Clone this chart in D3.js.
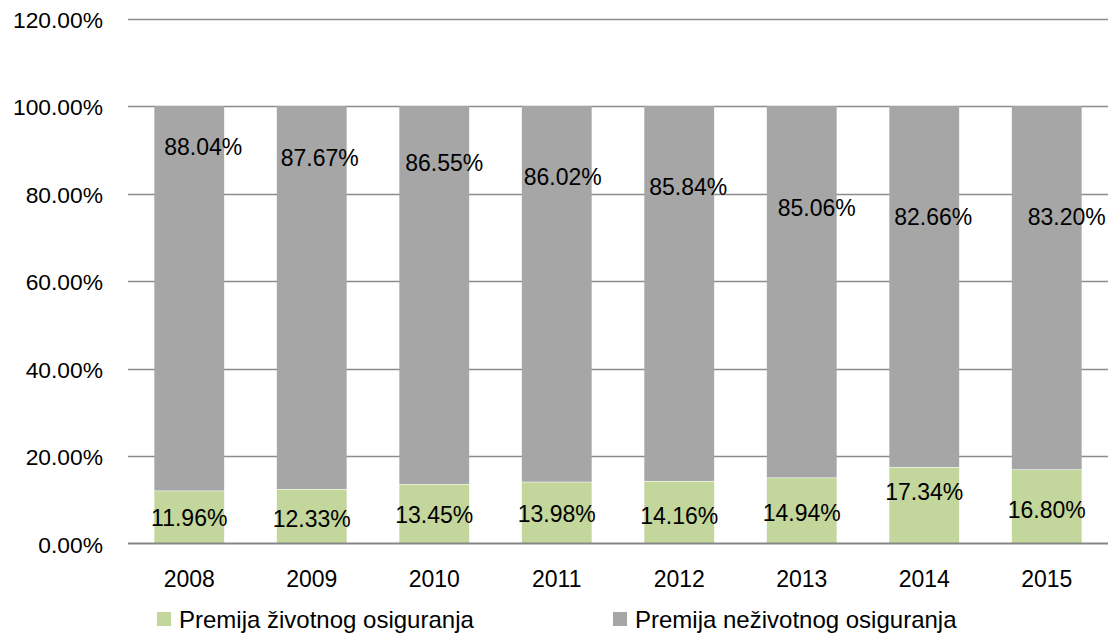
<!DOCTYPE html>
<html>
<head>
<meta charset="utf-8">
<script src="https://cdn.jsdelivr.net/npm/d3@7"></script>
<style>
  body { margin: 0; background: #fff; }
  text { font-family: "Liberation Sans", Arial, sans-serif; fill: #000; }
</style>
</head>
<body>
<svg id="chart" width="1114" height="635"></svg>
<script>
// Data
var years = ["2008", "2009", "2010", "2011", "2012", "2013", "2014", "2015"];
var lifeShare = [11.96, 12.33, 13.45, 13.98, 14.16, 14.94, 17.34, 16.80];
var nonLifeShare = [88.04, 87.67, 86.55, 86.02, 85.84, 85.06, 82.66, 83.20];
var yTicks = [0, 20, 40, 60, 80, 100, 120];
var seriesNames = ["Premija životnog osiguranja", "Premija neživotnog osiguranja"];

// label placement (labels were dragged by hand in the original)
var grayDx = [14, 8, 10, 6, 9, 15, 9, 20];
var grayDy = [41, 52, 57, 71, 81, 102, 111, 111];
var greenDy = [-25.5, -24.5, -28.5, -29.5, -27.5, -30.5, -51.5, -33.5];

var colors = { life: "#c3d69b", nonLife: "#a6a6a6", grid: "#8c8c8c" };

var svg = d3.select("#chart");

var x = d3.scaleBand()
    .domain(years)
    .range([128, 1108])
    .paddingInner(0.43)
    .paddingOuter(0.215);

var y = d3.scaleLinear().domain([0, 120]).range([543.5, 18.5]);

// gridlines
svg.append("g")
    .selectAll("line")
    .data(yTicks.filter(function(d) { return d > 0; }))
    .enter()
    .append("line")
    .attr("x1", 128)
    .attr("x2", 1108)
    .attr("y1", function(d) { return Math.round(y(d)) + 0.5; })
    .attr("y2", function(d) { return Math.round(y(d)) + 0.5; })
    .attr("stroke", colors.grid)
    .attr("stroke-width", 1.3);

// y tick labels
svg.append("g")
    .selectAll("text")
    .data(yTicks)
    .enter()
    .append("text")
    .attr("x", 103)
    .attr("y", function(d) { return y(d) + 1; })
    .attr("text-anchor", "end")
    .attr("dominant-baseline", "central")
    .style("font-size", "22.8px")
    .text(function(d) { return d.toFixed(2) + "%"; });

var bars = svg.append("g");

// life (bottom)
bars.selectAll("rect.life")
    .data(years)
    .enter()
    .append("rect")
    .attr("class", "life")
    .attr("x", function(d) { return x(d); })
    .attr("width", x.bandwidth())
    .attr("y", function(d, i) { return y(lifeShare[i]); })
    .attr("height", function(d, i) { return y(0) - y(lifeShare[i]); })
    .attr("fill", colors.life);

// non-life (top)
bars.selectAll("rect.nonlife")
    .data(years)
    .enter()
    .append("rect")
    .attr("class", "nonlife")
    .attr("x", function(d) { return x(d); })
    .attr("width", x.bandwidth())
    .attr("y", function(d, i) { return y(lifeShare[i] + nonLifeShare[i]); })
    .attr("height", function(d, i) { return y(lifeShare[i]) - y(lifeShare[i] + nonLifeShare[i]) - 0.6; })
    .attr("fill", colors.nonLife);

// x axis line
svg.append("line")
    .attr("x1", 128)
    .attr("x2", 1108)
    .attr("y1", y(0))
    .attr("y2", y(0))
    .attr("stroke", "#868686")
    .attr("stroke-width", 2);

// data labels
var labels = svg.append("g").style("font-size", "23px");

labels.selectAll("text.nl")
    .data(years)
    .enter()
    .append("text")
    .attr("x", function(d, i) { return x(d) + x.bandwidth() / 2 + grayDx[i]; })
    .attr("y", function(d, i) { return y(100) + grayDy[i]; })
    .attr("text-anchor", "middle")
    .attr("dominant-baseline", "central")
    .text(function(d, i) { return nonLifeShare[i].toFixed(2) + "%"; });

labels.selectAll("text.l")
    .data(years)
    .enter()
    .append("text")
    .attr("x", function(d) { return x(d) + x.bandwidth() / 2; })
    .attr("y", function(d, i) { return y(0) + greenDy[i]; })
    .attr("text-anchor", "middle")
    .attr("dominant-baseline", "central")
    .text(function(d, i) { return lifeShare[i].toFixed(2) + "%"; });

// year labels
svg.append("g")
    .selectAll("text")
    .data(years)
    .enter()
    .append("text")
    .attr("x", function(d) { return x(d) + x.bandwidth() / 2; })
    .attr("y", 579)
    .attr("text-anchor", "middle")
    .attr("dominant-baseline", "central")
    .style("font-size", "23px")
    .text(function(d) { return d; });

// legend
var legend = svg.append("g")
    .selectAll("g")
    .data(seriesNames)
    .enter()
    .append("g")
    .attr("transform", function(d, i) { return "translate(" + (i === 0 ? 157 : 613) + ",619)"; });

legend.append("rect")
    .attr("x", 0)
    .attr("y", -7)
    .attr("width", 14)
    .attr("height", 14)
    .attr("fill", function(d, i) { return i === 0 ? colors.life : colors.nonLife; });

legend.append("text")
    .attr("x", 22)
    .attr("y", 0)
    .attr("dominant-baseline", "central")
    .style("font-size", "24px")
    .text(function(d) { return d; });
</script>
</body>
</html>
